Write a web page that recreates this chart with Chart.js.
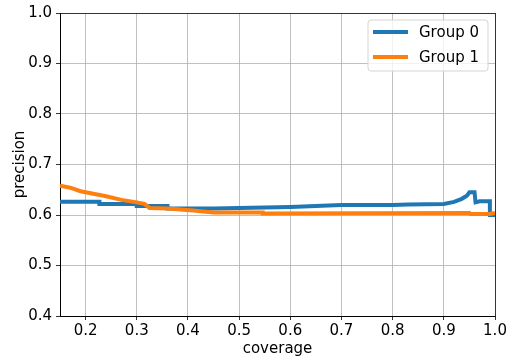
<!DOCTYPE html>
<html>
<head>
<meta charset="utf-8">
<script src="https://cdn.jsdelivr.net/npm/chart.js@4/dist/chart.umd.min.js"></script>
<style>
  html, body { margin: 0; padding: 0; background: #fff; }
  #wrap { width: 515px; height: 360px; }
</style>
</head>
<body>
<div id="wrap"><canvas id="chart"></canvas></div>
<script>
// precision vs coverage for both groups
const group0Coverage = [0.15, 0.227, 0.227, 0.30, 0.30, 0.36, 0.36, 0.45, 0.50, 0.55, 0.60, 0.65, 0.70, 0.80, 0.83, 0.90, 0.92, 0.935, 0.945, 0.95, 0.96, 0.962, 0.97, 0.99, 0.99, 1.0];
const group0Precision = [0.626, 0.626, 0.622, 0.622, 0.618, 0.618, 0.613, 0.613, 0.614, 0.615, 0.616, 0.618, 0.620, 0.620, 0.621, 0.622, 0.626, 0.632, 0.638, 0.645, 0.645, 0.625, 0.627, 0.627, 0.600, 0.600];

const group1Coverage = [0.15, 0.17, 0.19, 0.21, 0.24, 0.27, 0.30, 0.315, 0.325, 0.36, 0.41, 0.45, 0.546, 0.546, 0.95, 0.952, 0.99, 1.0];
const group1Precision = [0.658, 0.654, 0.647, 0.643, 0.637, 0.630, 0.625, 0.622, 0.614, 0.613, 0.609, 0.605, 0.605, 0.603, 0.604, 0.602, 0.602, 0.604];

const groupNames = ['Group 0', 'Group 1'];
const groupColors = ['#1f77b4', '#ff7f0e'];

const xTicks = [0.2, 0.3, 0.4, 0.5, 0.6, 0.7, 0.8, 0.9, 1.0];
const yTicks = [0.4, 0.5, 0.6, 0.7, 0.8, 0.9, 1.0];

const FONT = 'DejaVu Sans';
const toPoints = (xs, ys) => xs.map((x, i) => ({ x, y: ys[i] }));

// legend box in the upper right corner of the plot
const boxLegend = {
  id: 'boxLegend',
  afterDraw(chart) {
    const ctx = chart.ctx;
    const x0 = 368, y0 = 20, w = 120, h = 51;
    ctx.save();
    ctx.beginPath();
    ctx.roundRect(x0, y0, w, h, 3);
    ctx.fillStyle = 'rgba(255,255,255,0.8)';
    ctx.fill();
    ctx.strokeStyle = '#d5d5d5';
    ctx.lineWidth = 1;
    ctx.stroke();
    ctx.font = '15px "' + FONT + '"';
    ctx.textBaseline = 'middle';
    groupNames.forEach((name, i) => {
      const y = y0 + 12 + i * 25;
      ctx.beginPath();
      ctx.moveTo(x0 + 5, y);
      ctx.lineTo(x0 + 40, y);
      ctx.strokeStyle = groupColors[i];
      ctx.lineWidth = 4;
      ctx.stroke();
      ctx.fillStyle = '#000';
      ctx.fillText(name, x0 + 51, y + 1);
    });
    ctx.restore();
  }
};

const edgeColor = (ctx) => (ctx.index === 0 || ctx.index === ctx.scale.ticks.length - 1) ? '#000' : '#b0b0b0';

new Chart(document.getElementById('chart'), {
  type: 'line',
  data: {
    datasets: [
      {
        label: groupNames[0],
        data: toPoints(group0Coverage, group0Precision),
        borderColor: groupColors[0],
        borderWidth: 4,
        pointRadius: 0,
        order: 1
      },
      {
        label: groupNames[1],
        data: toPoints(group1Coverage, group1Precision),
        borderColor: groupColors[1],
        borderWidth: 4,
        pointRadius: 0,
        order: 0
      }
    ]
  },
  options: {
    responsive: true,
    maintainAspectRatio: false,
    animation: false,
    layout: { padding: { top: 12, right: 20, left: 0, bottom: 0 } },
    plugins: {
      legend: { display: false },
      tooltip: { enabled: false }
    },
    scales: {
      x: {
        type: 'linear',
        min: 0.15,
        max: 1.0,
        afterBuildTicks: (scale) => {
          scale.ticks = [{ value: 0.15 }].concat(xTicks.map(v => ({ value: v })));
        },
        afterFit: (scale) => { scale.height = 44; },
        ticks: {
          color: '#000',
          font: { family: FONT, size: 15 },
          padding: 2,
          maxRotation: 0,
          callback: (v) => v === 0.15 ? '' : v.toFixed(1)
        },
        grid: {
          color: (ctx) => ctx.index === 0 ? 'rgba(0,0,0,0)' : edgeColor(ctx),
          lineWidth: 0.8,
          tickLength: 4,
          tickColor: (ctx) => ctx.index === 0 ? 'rgba(0,0,0,0)' : '#000'
        },
        border: { color: '#000', width: 1 },
        title: {
          display: true,
          text: 'coverage',
          color: '#000',
          font: { family: FONT, size: 15 },
          padding: { top: 0, bottom: 2 }
        }
      },
      y: {
        min: 0.4,
        max: 1.0,
        afterBuildTicks: (scale) => {
          scale.ticks = yTicks.map(v => ({ value: v }));
        },
        afterFit: (scale) => { scale.width = 60; },
        ticks: {
          color: '#000',
          font: { family: FONT, size: 15 },
          padding: 4,
          callback: (v) => v.toFixed(1)
        },
        grid: {
          color: edgeColor,
          lineWidth: 0.8,
          tickLength: 4,
          tickColor: '#000'
        },
        border: { color: '#000', width: 1 },
        title: {
          display: true,
          text: 'precision',
          color: '#000',
          font: { family: FONT, size: 15 },
          padding: { top: 11, bottom: 0 }
        }
      }
    }
  },
  plugins: [boxLegend]
});
</script>
</body>
</html>
